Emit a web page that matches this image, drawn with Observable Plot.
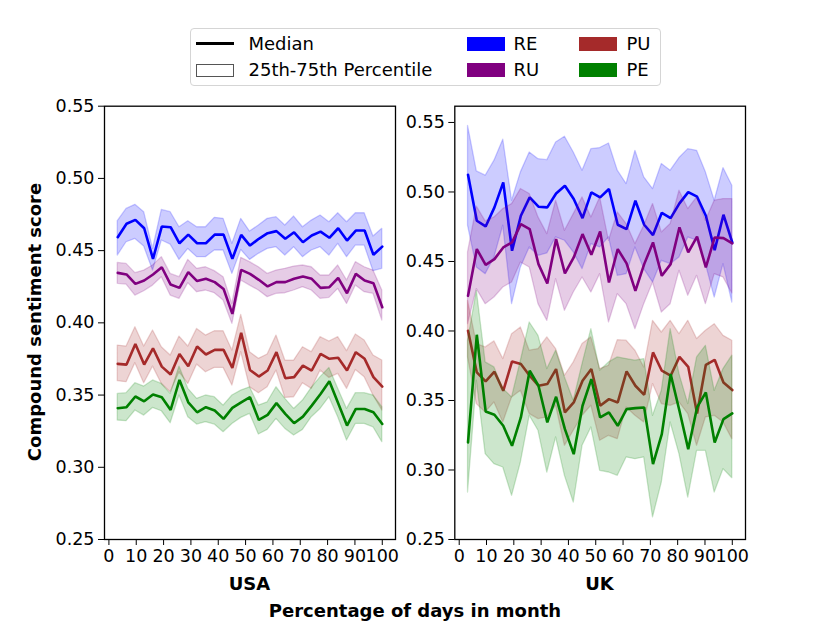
<!DOCTYPE html>
<html>
<head>
<meta charset="utf-8">
<script src="https://cdn.jsdelivr.net/npm/d3@7"></script>
<script src="https://cdn.jsdelivr.net/npm/@observablehq/plot@0.6"></script>
<style>
  body { margin: 0; background: white; }
  #wrap { position: relative; width: 830px; height: 623px; font-family: "DejaVu Sans", sans-serif; color: black; overflow: hidden; }
  .abs { position: absolute; }
  .lbl { position: absolute; font-weight: bold; font-size: 18px; white-space: nowrap; transform: translateX(-50%); line-height: 1; }
  #legend { position: absolute; left: 189.5px; top: 28px; width: 471px; height: 58px; border: 1px solid #d5d5d5; border-radius: 4px; box-sizing: border-box; }
  .lt { position: absolute; font-size: 18px; line-height: 1; white-space: nowrap; }
  .sw { position: absolute; width: 38px; height: 14px; }
</style>
</head>
<body>
<div id="wrap">
  <div id="legend">
    <div class="abs" style="left:5.5px;top:13px;width:38px;height:2.6px;background:black;"></div>
    <div class="lt" style="left:58px;top:5.8px;">Median</div>
    <div class="abs" style="left:5.5px;top:35px;width:38px;height:13px;border:1.5px solid #555;box-sizing:border-box;"></div>
    <div class="lt" style="left:58px;top:31.8px;">25th-75th Percentile</div>
    <div class="sw" style="left:276.5px;top:7.5px;background:#0000ff;"></div>
    <div class="lt" style="left:323px;top:5.8px;">RE</div>
    <div class="sw" style="left:276.5px;top:34px;background:#800080;"></div>
    <div class="lt" style="left:323px;top:31.8px;">RU</div>
    <div class="sw" style="left:388.5px;top:7.5px;background:#a52a2a;"></div>
    <div class="lt" style="left:436px;top:5.8px;">PU</div>
    <div class="sw" style="left:388.5px;top:34px;background:#008000;"></div>
    <div class="lt" style="left:436px;top:31.8px;">PE</div>
  </div>
  <div id="p1" class="abs" style="left:0;top:0;"></div>
  <div id="p2" class="abs" style="left:400px;top:0;"></div>
  <div class="lbl" style="left:249.5px;top:575px;">USA</div>
  <div class="lbl" style="left:599.5px;top:575px;">UK</div>
  <div class="lbl" style="left:415px;top:602px;">Percentage of days in month</div>
  <div class="lbl" style="left:35px;top:322px;transform:translate(-50%,-50%) rotate(-90deg);">Compound sentiment score</div>
</div>
<script>
const xPct = [3.23, 6.45, 9.68, 12.90, 16.13, 19.35, 22.58, 25.81, 29.03, 32.26, 35.48, 38.71, 41.94, 45.16, 48.39, 51.61, 54.84, 58.06, 61.29, 64.52, 67.74, 70.97, 74.19, 77.42, 80.65, 83.87, 87.10, 90.32, 93.55, 96.77, 100];
const xTicks = [0, 10, 20, 30, 40, 50, 60, 70, 80, 90, 100];
const yTicks = [0.25, 0.30, 0.35, 0.40, 0.45, 0.50, 0.55];
const seriesNames = ["RE", "RU", "PU", "PE"];
const seriesColors = ["#0000ff", "#800080", "#a52a2a", "#008000"];

// USA
const usa_RE_med = [0.4593,0.4686,0.4713,0.4655,0.4443,0.4667,0.4662,0.4551,0.4611,0.4551,0.4551,0.4611,0.4611,0.4443,0.4609,0.4535,0.4582,0.4621,0.4635,0.4582,0.4627,0.4558,0.4605,0.4632,0.4589,0.4655,0.4570,0.4639,0.4639,0.4471,0.4528];
const usa_RE_lo  = [0.4466,0.4558,0.4581,0.4528,0.4362,0.4570,0.4542,0.4436,0.4512,0.4455,0.4455,0.4501,0.4501,0.4339,0.4505,0.4436,0.4478,0.4512,0.4524,0.4466,0.4524,0.4455,0.4501,0.4524,0.4466,0.4547,0.4455,0.4535,0.4535,0.4358,0.4374];
const usa_RE_hi  = [0.4704,0.4789,0.4817,0.4766,0.4512,0.4782,0.4766,0.4662,0.4704,0.4662,0.4662,0.4727,0.4720,0.4547,0.4720,0.4632,0.4674,0.4720,0.4732,0.4674,0.4736,0.4662,0.4708,0.4743,0.4697,0.4759,0.4697,0.4759,0.4759,0.4598,0.4651];
const usa_RU_med = [0.4346,0.4335,0.4270,0.4293,0.4335,0.4385,0.4265,0.4242,0.4351,0.4289,0.4305,0.4282,0.4235,0.4062,0.4367,0.4339,0.4298,0.4252,0.4282,0.4282,0.4305,0.4321,0.4305,0.4242,0.4247,0.4312,0.4205,0.4339,0.4293,0.4275,0.4108];
const usa_RU_hi  = [0.4415,0.4408,0.4344,0.4362,0.4397,0.4455,0.4339,0.4316,0.4436,0.4374,0.4385,0.4358,0.4316,0.4131,0.4450,0.4420,0.4385,0.4339,0.4362,0.4374,0.4390,0.4397,0.4385,0.4328,0.4328,0.4397,0.4293,0.4420,0.4385,0.4362,0.4224];
const usa_RU_lo  = [0.4270,0.4265,0.4189,0.4219,0.4258,0.4316,0.4189,0.4166,0.4275,0.4212,0.4224,0.4205,0.4155,0.3993,0.4293,0.4258,0.4224,0.4178,0.4201,0.4205,0.4224,0.4247,0.4224,0.4166,0.4173,0.4235,0.4131,0.4258,0.4212,0.4201,0.4016];
const usa_PU_med = [0.3716,0.3711,0.3854,0.3711,0.3824,0.3697,0.3642,0.3785,0.3700,0.3836,0.3781,0.3813,0.3813,0.3688,0.3931,0.3674,0.3628,0.3670,0.3797,0.3617,0.3624,0.3704,0.3670,0.3785,0.3751,0.3758,0.3670,0.3797,0.3751,0.3624,0.3559];
const usa_PU_hi  = [0.3843,0.3836,0.3970,0.3836,0.3947,0.3831,0.3774,0.3905,0.3836,0.3958,0.3912,0.3942,0.3942,0.3808,0.4055,0.3797,0.3751,0.3781,0.3912,0.3739,0.3739,0.3831,0.3797,0.3901,0.3871,0.3901,0.3804,0.3919,0.3878,0.3774,0.3739];
const usa_PU_lo  = [0.3596,0.3589,0.3721,0.3582,0.3697,0.3577,0.3520,0.3658,0.3577,0.3711,0.3658,0.3688,0.3688,0.3566,0.3797,0.3554,0.3513,0.3554,0.3670,0.3480,0.3485,0.3582,0.3543,0.3670,0.3619,0.3647,0.3543,0.3674,0.3624,0.3497,0.3393];
const usa_PE_med = [0.3409,0.3416,0.3490,0.3457,0.3504,0.3485,0.3397,0.3605,0.3450,0.3381,0.3416,0.3393,0.3335,0.3411,0.3450,0.3485,0.3328,0.3363,0.3444,0.3370,0.3305,0.3351,0.3427,0.3508,0.3596,0.3444,0.3289,0.3404,0.3404,0.3381,0.3300];
const usa_PE_hi  = [0.3508,0.3513,0.3582,0.3559,0.3601,0.3577,0.3508,0.3697,0.3543,0.3474,0.3497,0.3485,0.3427,0.3497,0.3531,0.3554,0.3427,0.3450,0.3554,0.3474,0.3404,0.3462,0.3550,0.3624,0.3688,0.3543,0.3404,0.3513,0.3513,0.3497,0.3416];
const usa_PE_lo  = [0.3324,0.3319,0.3393,0.3358,0.3411,0.3388,0.3305,0.3497,0.3347,0.3296,0.3312,0.3296,0.3243,0.3300,0.3342,0.3370,0.3227,0.3259,0.3335,0.3266,0.3220,0.3259,0.3347,0.3404,0.3485,0.3347,0.3185,0.3300,0.3300,0.3277,0.3174];

// UK
const uk_RE_med = [0.5124,0.4793,0.4752,0.4889,0.5069,0.4577,0.4829,0.4961,0.4894,0.4889,0.4989,0.5045,0.4949,0.4812,0.4997,0.4961,0.5021,0.4764,0.4733,0.4937,0.4764,0.4690,0.4850,0.4812,0.4918,0.4999,0.4966,0.4829,0.4582,0.4836,0.4637];
const uk_RE_hi  = [0.5476,0.5148,0.5117,0.5225,0.5376,0.4937,0.5141,0.5284,0.5236,0.5229,0.5356,0.5397,0.5284,0.5153,0.5308,0.5316,0.5349,0.5153,0.5057,0.5296,0.5105,0.5021,0.5201,0.5153,0.5244,0.5308,0.5296,0.5141,0.4937,0.5172,0.5045];
const uk_RE_lo  = [0.4757,0.4457,0.4409,0.4529,0.4757,0.4193,0.4457,0.4601,0.4541,0.4558,0.4673,0.4649,0.4565,0.4445,0.4625,0.4601,0.4673,0.4397,0.4409,0.4601,0.4445,0.4349,0.4505,0.4481,0.4529,0.4673,0.4649,0.4481,0.4241,0.4481,0.4205];
const uk_RU_med = [0.4253,0.4589,0.4476,0.4517,0.4601,0.4637,0.4769,0.4733,0.4481,0.4342,0.4661,0.4414,0.4529,0.4697,0.4548,0.4716,0.4349,0.4589,0.4486,0.4289,0.4481,0.4637,0.4397,0.4481,0.4745,0.4565,0.4678,0.4457,0.4673,0.4668,0.4630];
const uk_RU_hi  = [0.4565,0.4894,0.4788,0.4817,0.4877,0.4913,0.5021,0.4985,0.4817,0.4697,0.4937,0.4721,0.4841,0.4961,0.4817,0.4961,0.4649,0.4853,0.4769,0.4625,0.4757,0.4913,0.4709,0.4769,0.5009,0.4877,0.4961,0.4793,0.4937,0.4949,0.4949];
const uk_RU_lo  = [0.4050,0.4301,0.4193,0.4241,0.4313,0.4349,0.4493,0.4457,0.4193,0.4073,0.4373,0.4145,0.4277,0.4385,0.4277,0.4409,0.4061,0.4265,0.4193,0.4013,0.4193,0.4349,0.4133,0.4193,0.4433,0.4253,0.4397,0.4193,0.4409,0.4385,0.4270];
const uk_PU_med = [0.4002,0.3702,0.3637,0.3707,0.3570,0.3781,0.3762,0.3678,0.3606,0.3618,0.3726,0.3414,0.3486,0.3642,0.3726,0.3462,0.3510,0.3486,0.3709,0.3606,0.3541,0.3846,0.3714,0.3678,0.3814,0.3742,0.3407,0.3757,0.3793,0.3630,0.3575];
const uk_PU_hi  = [0.4217,0.3906,0.3882,0.3925,0.3798,0.3977,0.4025,0.3858,0.3870,0.3954,0.3870,0.3678,0.3774,0.3906,0.3954,0.3726,0.3750,0.3934,0.3930,0.3858,0.3738,0.4073,0.3989,0.4073,0.3977,0.4073,0.3942,0.4001,0.4049,0.3965,0.3930];
const uk_PU_lo  = [0.3810,0.3474,0.3414,0.3486,0.3342,0.3522,0.3570,0.3402,0.3366,0.3378,0.3462,0.3174,0.3282,0.3390,0.3462,0.3210,0.3246,0.3222,0.3450,0.3390,0.3342,0.3618,0.3474,0.3462,0.3486,0.3402,0.3174,0.3378,0.3390,0.3342,0.3222];
const uk_PE_med = [0.3198,0.3973,0.3421,0.3397,0.3318,0.3174,0.3378,0.3714,0.3606,0.3342,0.3527,0.3294,0.3114,0.3462,0.3654,0.3378,0.3414,0.3318,0.3438,0.3445,0.3450,0.3042,0.3258,0.3690,0.3426,0.3150,0.3450,0.3558,0.3198,0.3366,0.3407];
const uk_PE_hi  = [0.3930,0.4289,0.3774,0.3738,0.3582,0.3522,0.3786,0.4061,0.3965,0.3726,0.3858,0.3666,0.3498,0.3762,0.4013,0.3714,0.3774,0.3810,0.3798,0.3786,0.3798,0.3390,0.3570,0.4013,0.3690,0.3474,0.3810,0.3893,0.3570,0.3726,0.3822];
const uk_PE_lo  = [0.2838,0.3642,0.3114,0.3042,0.3018,0.2814,0.3054,0.3390,0.3282,0.2982,0.3234,0.2958,0.2766,0.3174,0.3306,0.2994,0.2982,0.2958,0.3090,0.3078,0.3090,0.2659,0.2910,0.3342,0.3114,0.2802,0.3138,0.3138,0.2838,0.3006,0.2941];

const usaSeries = {
  RE: [usa_RE_med, usa_RE_lo, usa_RE_hi],
  RU: [usa_RU_med, usa_RU_lo, usa_RU_hi],
  PU: [usa_PU_med, usa_PU_lo, usa_PU_hi],
  PE: [usa_PE_med, usa_PE_lo, usa_PE_hi]
};
const ukSeries = {
  RE: [uk_RE_med, uk_RE_lo, uk_RE_hi],
  RU: [uk_RU_med, uk_RU_lo, uk_RU_hi],
  PU: [uk_PU_med, uk_PU_lo, uk_PU_hi],
  PE: [uk_PE_med, uk_PE_lo, uk_PE_hi]
};

function rows(arrs) {
  const [med, lo, hi] = arrs;
  return xPct.map((x, i) => ({x, med: med[i], lo: lo[i], hi: hi[i]}));
}

function panel(series, yDomain, width, marginLeft, marginRight) {
  const marks = [];
  seriesNames.forEach((name, k) => {
    const data = rows(series[name]);
    const c = seriesColors[k];
    marks.push(Plot.areaY(data, {x: "x", y1: "lo", y2: "hi", fill: c, fillOpacity: 0.2, stroke: c, strokeOpacity: 0.2, strokeWidth: 1.3}));
    marks.push(Plot.lineY(data, {x: "x", y: "med", stroke: c, strokeWidth: 2.6, strokeLinejoin: "miter"}));
  });
  marks.push(Plot.frame({stroke: "black", strokeWidth: 1.3}));
  return Plot.plot({
    width, height: 623,
    marginTop: 105.7, marginBottom: 84, marginLeft, marginRight,
    style: {fontSize: "17.5px", fontFamily: "DejaVu Sans, sans-serif", color: "black", background: "transparent", overflow: "visible"},
    x: {domain: [-1.613, 104.839], ticks: xTicks, tickSize: 6, tickPadding: 4, label: null, tickFormat: d => String(d)},
    y: {domain: yDomain, ticks: yTicks, tickSize: 6, tickPadding: 4, label: null, tickFormat: d3.format(".2f")},
    marks
  });
}

document.getElementById("p1").appendChild(panel(usaSeries, [0.25, 0.55], 400, 104, 5));
document.getElementById("p2").appendChild(panel(ukSeries, [0.25, 0.5617], 430, 54.3, 85));
</script>
</body>
</html>
